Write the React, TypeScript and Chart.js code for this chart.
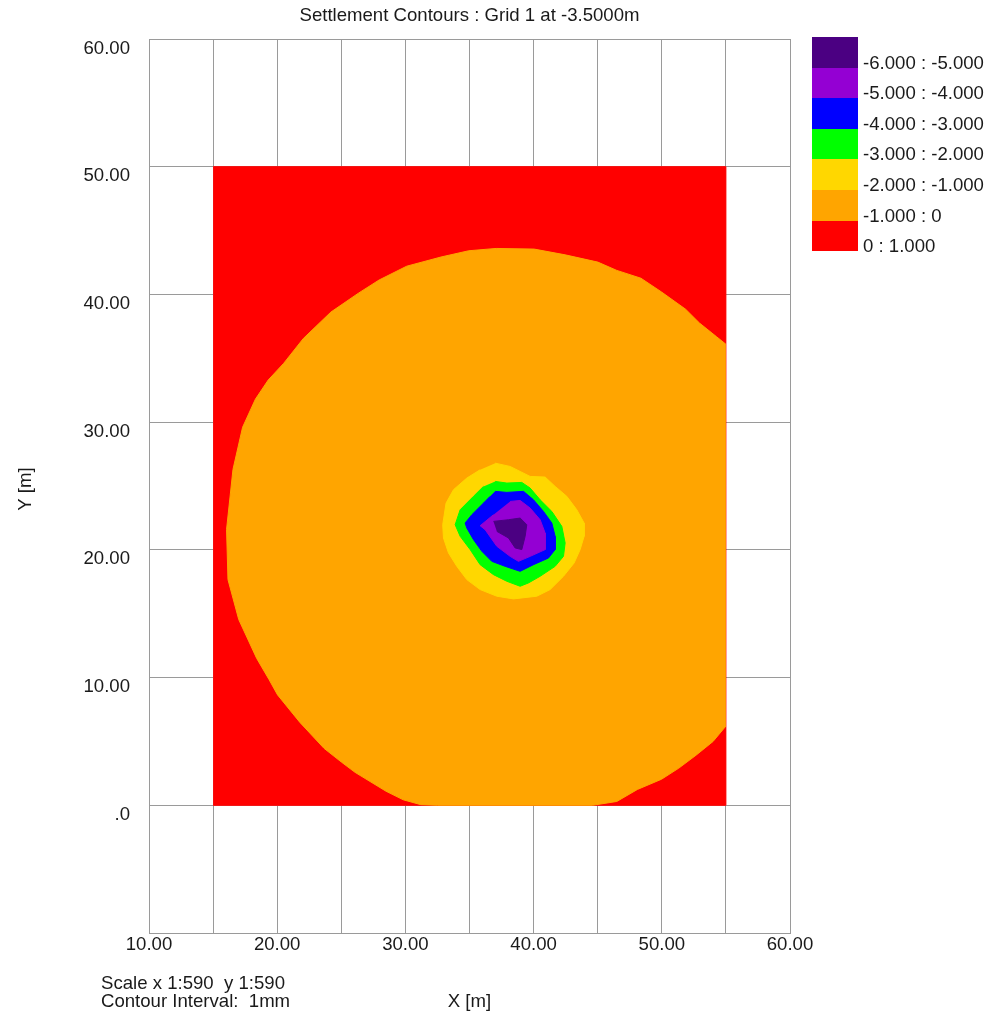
import React, { useEffect, useRef } from 'react';
import { Chart, registerables } from 'chart.js';

Chart.register(...registerables);

// ---- Text ----
const TITLE = 'Settlement Contours : Grid 1 at -3.5000m';
const X_TITLE = 'X [m]';
const Y_TITLE = 'Y [m]';
const FOOTER_LINES = ['Scale x 1:590  y 1:590', 'Contour Interval:  1mm'];

// ---- Axes ----
const X_MIN = 10;
const X_MAX = 60;
const X_STEP = 5;
const Y_MIN = -10;
const Y_MAX = 60;
const Y_STEP = 10;

// ---- Legend (contour bands, top to bottom) ----
const LEGEND_LABELS = [
  '-6.000 : -5.000',
  '-5.000 : -4.000',
  '-4.000 : -3.000',
  '-3.000 : -2.000',
  '-2.000 : -1.000',
  '-1.000 : 0',
  '0 : 1.000',
];
const LEGEND_COLORS = ['#4B0082', '#9400D3', '#0000FF', '#00FF00', '#FFD700', '#FFA500', '#FF0000'];

// ---- Contour band polygons [x, y] in metres ----
const band0to1: number[][] = [
  [15, 0], [55, 0], [55, 50], [15, 50],
];

const bandM1to0: number[][] = [
  [55, 36.1], [54.28, 36.68], [52.94, 37.76], [51.86, 38.84], [49.98, 40.19], [48.37, 41.27],
  [46.49, 41.88], [45.01, 42.53], [42.46, 43.1], [40.04, 43.55], [37.08, 43.6], [34.94, 43.42],
  [32.78, 42.93], [30.1, 42.21], [27.95, 41.13], [26.34, 40.1], [24.19, 38.62], [22.04, 36.55],
  [20.5, 34.6], [19.3, 33.3], [18.3, 31.8], [17.3, 29.6], [16.55, 26.3], [16.05, 21.6],
  [16.16, 17.67], [17.0, 14.54], [18.4, 11.5], [19.36, 9.85], [20.03, 8.64], [21.77, 6.49],
  [23.65, 4.46], [25.0, 3.39], [26.07, 2.58], [28.49, 1.1], [29.83, 0.43], [31.2, 0.05],
  [32.5, 0], [44.6, 0], [46.49, 0.3], [48.1, 1.24], [49.98, 2.04], [51.33, 2.91],
  [52.67, 3.92], [54.0, 5.0], [55, 6.2],
];

const bandM2toM1: number[][] = [
  [37.0, 26.79], [38.17, 26.53], [38.95, 26.14], [39.73, 25.75], [40.9, 25.7], [41.68, 24.97],
  [42.59, 24.19], [43.37, 23.14], [43.94, 22.1], [43.94, 21.06], [43.63, 20.02], [43.16, 18.97],
  [42.33, 17.93], [41.29, 16.89], [40.25, 16.37], [38.43, 16.16], [37.13, 16.37], [35.83, 16.89],
  [34.79, 17.67], [34.01, 18.71], [33.36, 19.76], [32.97, 20.93], [32.91, 21.97], [33.17, 23.66],
  [33.75, 24.71], [34.79, 25.62], [35.83, 26.27],
];

const bandM3toM2: number[][] = [
  [37.0, 25.36], [37.91, 25.23], [39.08, 25.28], [39.73, 24.84], [40.51, 23.92], [41.42, 23.01],
  [42.2, 21.84], [42.46, 20.54], [42.33, 19.49], [41.68, 18.71], [40.51, 17.93], [39.6, 17.41],
  [38.95, 17.15], [37.91, 17.54], [36.87, 18.06], [35.83, 18.84], [35.05, 20.02], [34.27, 21.06],
  [33.88, 21.97], [34.27, 23.14], [35.31, 24.19], [36.09, 24.97],
];

const bandM4toM3: number[][] = [
  [37.0, 24.58], [37.91, 24.5], [39.21, 24.58], [39.99, 23.92], [40.77, 23.01], [41.42, 22.1],
  [41.68, 21.06], [41.68, 20.02], [41.16, 19.36], [39.99, 18.84], [38.95, 18.32], [37.78, 18.71],
  [36.74, 19.1], [35.96, 19.89], [35.31, 20.8], [34.79, 21.71], [34.66, 22.1], [35.18, 22.75],
  [36.09, 23.66], [36.61, 24.19],
];

const bandM5toM4: number[][] = [
  [38.17, 23.79], [38.95, 23.87], [39.73, 23.27], [40.51, 22.36], [40.9, 21.32], [40.9, 20.02],
  [39.73, 19.49], [38.82, 19.1], [38.17, 19.49], [37.13, 20.28], [36.22, 21.58], [35.83, 21.89],
  [36.87, 22.75],
];

const bandM6toM5: number[][] = [
  [36.87, 22.23], [38.04, 22.36], [38.95, 22.49], [39.47, 21.97], [39.34, 21.06], [39.08, 20.02],
  [38.56, 20.15], [38.04, 20.93], [37.13, 21.45],
];

// top-most first (index matches LEGEND_COLORS)
const BANDS = [bandM6toM5, bandM5toM4, bandM4toM3, bandM3toM2, bandM2toM1, bandM1to0, band0to1];

const FONT_FAMILY = '"Liberation Sans", Arial, Helvetica, sans-serif';
const FONT_SIZE = 18.6;
const TEXT_COLOR = '#1a1a1a';
const GRID_COLOR = '#9a9a9a';

const annotations = {
  id: 'annotations',
  afterDraw(chart: any) {
    const ctx = chart.ctx as CanvasRenderingContext2D;
    const area = chart.chartArea;
    ctx.save();
    ctx.fillStyle = TEXT_COLOR;
    ctx.font = `${FONT_SIZE}px ${FONT_FAMILY}`;
    ctx.textBaseline = 'middle';
    // title
    ctx.textAlign = 'center';
    ctx.fillText(TITLE, (area.left + area.right) / 2, 16);
    // x title
    ctx.fillText(X_TITLE, (area.left + area.right) / 2, 1002);
    // footer
    ctx.textAlign = 'left';
    ctx.fillText(FOOTER_LINES[0], 101, 984);
    ctx.fillText(FOOTER_LINES[1], 101, 1002);
    // y title
    ctx.save();
    ctx.translate(26, 489);
    ctx.rotate(-Math.PI / 2);
    ctx.textAlign = 'center';
    ctx.fillText(Y_TITLE, 0, 0);
    ctx.restore();
    // legend
    const lx = 812;
    const ly = 37;
    const bw = 46;
    const bh = 30.6;
    LEGEND_LABELS.forEach((label, i) => {
      ctx.fillStyle = LEGEND_COLORS[i];
      ctx.fillRect(lx, Math.round(ly + i * bh), bw, Math.round(ly + (i + 1) * bh) - Math.round(ly + i * bh));
      ctx.fillStyle = TEXT_COLOR;
      ctx.textAlign = 'left';
      ctx.fillText(label, lx + 51, ly + i * bh + 26.5);
    });
    ctx.restore();
  },
};

export default function App() {
  const ref = useRef<HTMLCanvasElement | null>(null);

  useEffect(() => {
    if (!ref.current) return;
    const datasets = BANDS.map((band, i) => ({
      label: LEGEND_LABELS[i],
      data: band.map(([x, y]) => ({ x, y })),
      showLine: true,
      fill: 'shape' as const,
      backgroundColor: LEGEND_COLORS[i],
      borderColor: LEGEND_COLORS[i],
      borderWidth: 1,
      pointRadius: 0,
      pointHoverRadius: 0,
      tension: 0,
      order: i,
    }));

    const chart = new Chart(ref.current, {
      type: 'scatter',
      data: { datasets },
      plugins: [annotations],
      options: {
        responsive: false,
        animation: false,
        devicePixelRatio: 1,
        layout: { padding: { left: 0, top: 39, right: 202, bottom: 0 } },
        plugins: {
          legend: { display: false },
          title: { display: false },
          tooltip: { enabled: false },
        },
        scales: {
          x: {
            type: 'linear',
            min: X_MIN,
            max: X_MAX,
            z: 1,
            afterFit: (s: any) => {
              s.height = 83;
            },
            grid: { color: GRID_COLOR, lineWidth: 1, drawTicks: false },
            border: { color: GRID_COLOR, width: 1 },
            ticks: {
              stepSize: X_STEP,
              autoSkip: false,
              maxRotation: 0,
              padding: 1,
              color: TEXT_COLOR,
              font: { family: FONT_FAMILY, size: FONT_SIZE },
              callback: (v: any) => (Number(v) % 10 === 0 ? Number(v).toFixed(2) : ''),
            },
          },
          y: {
            type: 'linear',
            min: Y_MIN,
            max: Y_MAX,
            z: 1,
            afterFit: (s: any) => {
              s.width = 149;
            },
            grid: { color: GRID_COLOR, lineWidth: 1, drawTicks: false },
            border: { color: GRID_COLOR, width: 1 },
            ticks: {
              stepSize: Y_STEP,
              autoSkip: false,
              padding: 19,
              labelOffset: 9.5,
              color: TEXT_COLOR,
              font: { family: FONT_FAMILY, size: FONT_SIZE },
              callback: (v: any) => {
                const n = Number(v);
                if (n === Y_MIN) return '';
                if (n === 0) return '.0';
                return n.toFixed(2);
              },
            },
          },
        },
      },
    });
    return () => chart.destroy();
  }, []);

  return (
    <div style={{ position: 'fixed', left: 0, top: 0, width: 992, height: 1016, background: '#fff' }}>
      <canvas ref={ref} width={992} height={1016} style={{ display: 'block' }} />
    </div>
  );
}
